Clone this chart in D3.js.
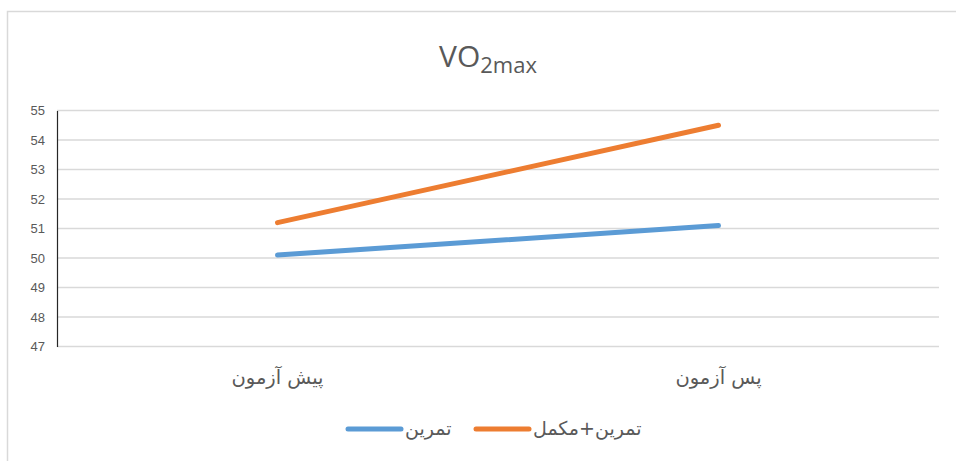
<!DOCTYPE html>
<html>
<head>
<meta charset="utf-8">
<script src="https://cdn.jsdelivr.net/npm/d3@7"></script>
<style>
  body { margin: 0; background: #fff; }
  text { font-family: "Liberation Sans", Arial, sans-serif; }
</style>
</head>
<body>
<div id="chart"></div>
<script>
const width = 956;
const height = 461;

// data
const categories = ["پیش آزمون", "پس آزمون"];
const seriesNames = ["تمرین", "تمرین+مکمل"];
const training = [50.1, 51.1];
const trainingSupp = [51.2, 54.5];
const yTicks = [47, 48, 49, 50, 51, 52, 53, 54, 55];
const colors = ["#5b9bd5", "#ed7d31"];

const margin = { top: 110.5, right: 17, bottom: 114.5, left: 57 };

const svg = d3.select("#chart")
  .append("svg")
  .attr("width", width)
  .attr("height", height);

// chart frame (only left/top visible in the crop)
svg.append("rect")
  .attr("x", 7.5)
  .attr("y", 11.5)
  .attr("width", width + 20)
  .attr("height", height + 20)
  .attr("fill", "#fff")
  .attr("stroke", "#d9d9d9")
  .attr("stroke-width", 1.5);

const x = d3.scaleBand()
  .domain(categories)
  .range([margin.left, width - margin.right]);

const y = d3.scaleLinear()
  .domain([47, 55])
  .range([height - margin.bottom, margin.top]);

// gridlines
svg.append("g")
  .selectAll("line")
  .data(yTicks)
  .join("line")
  .attr("x1", margin.left)
  .attr("x2", width - margin.right)
  .attr("y1", d => y(d))
  .attr("y2", d => y(d))
  .attr("stroke", "#d9d9d9")
  .attr("stroke-width", 1.5);

// y axis
const yAxis = svg.append("g")
  .attr("transform", `translate(${margin.left},0)`)
  .call(d3.axisLeft(y).tickValues(yTicks).tickSize(0).tickPadding(12));
yAxis.select(".domain").attr("stroke", "#262626").attr("stroke-width", 1.2);
yAxis.selectAll("text")
  .attr("fill", "#595959")
  .style("font-size", "13px");

// x labels
const xAxis = svg.append("g")
  .attr("transform", `translate(0,${height - margin.bottom})`)
  .call(d3.axisBottom(x).tickSize(0).tickPadding(24));
xAxis.select(".domain").remove();
xAxis.selectAll("text")
  .attr("fill", "#595959")
  .style("font-size", "19.5px")
  .style("font-family", "'DejaVu Sans', 'Noto Sans', sans-serif");

// lines
const line = d3.line()
  .x((d, i) => x(categories[i]) + x.bandwidth() / 2)
  .y(d => y(d));

[training, trainingSupp].forEach((vals, i) => {
  svg.append("path")
    .datum(vals)
    .attr("d", line)
    .attr("fill", "none")
    .attr("stroke", colors[i])
    .attr("stroke-width", 5)
    .attr("stroke-linecap", "round");
});

// title
const title = svg.append("text")
  .attr("x", 488)
  .attr("y", 67)
  .attr("text-anchor", "middle")
  .attr("fill", "#595959")
  .style("font-family", "'Open Sans', sans-serif")
  .style("font-size", "30px");
title.append("tspan").text("VO");
title.append("tspan").attr("dy", 6).style("font-size", "22px").text("2max");

// legend
const legendItems = [
  { x: 348, name: seriesNames[0], color: colors[0] },
  { x: 476, name: seriesNames[1], color: colors[1] }
];
const legend = svg.append("g");
legendItems.forEach(d => {
  legend.append("line")
    .attr("x1", d.x)
    .attr("x2", d.x + 53)
    .attr("y1", 429)
    .attr("y2", 429)
    .attr("stroke", d.color)
    .attr("stroke-width", 5)
    .attr("stroke-linecap", "round");
  legend.append("text")
    .attr("x", d.x + 57)
    .attr("y", 435)
    .attr("fill", "#595959")
    .style("font-size", "19px")
    .style("font-family", "'DejaVu Sans', 'Noto Sans', sans-serif")
    .text(d.name);
});
</script>
</body>
</html>
